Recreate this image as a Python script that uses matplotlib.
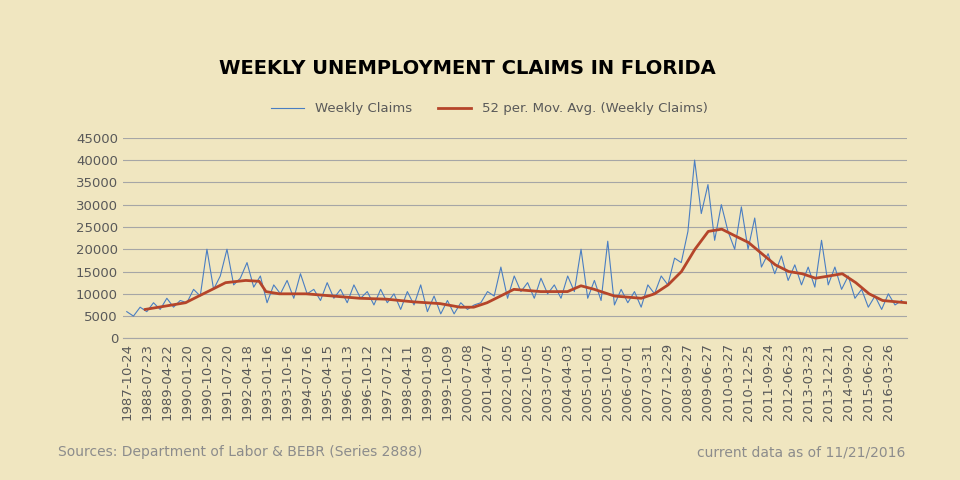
import numpy as np
import pandas as pd
import matplotlib
matplotlib.use("Agg")
import matplotlib.pyplot as plt

# weekly claims, read off roughly once per quarter (1987 Q4 .. 2016 Q4)
weekly_start = "1987-10-24"
weekly_claims = [
    6000,
    5000, 7000, 6000, 8000,
    6500, 9000, 7000, 8500,
    8000, 11000, 9500, 20000,
    11000, 14000, 20000, 12000,
    13500, 17000, 11500, 14000,
    8000, 12000, 10000, 13000,
    9000, 14500, 10000, 11000,
    8500, 12500, 9000, 11000,
    8000, 12000, 9000, 10500,
    7500, 11000, 8000, 10000,
    6500, 10500, 7500, 12000,
    6000, 9500, 5500, 8500,
    5500, 8000, 6500, 7500,
    8000, 10500, 9500, 16000,
    9000, 14000, 10500, 12500,
    9000, 13500, 10000, 12000,
    9000, 14000, 10500, 20000,
    9000, 13000, 8500, 21800,
    7500, 11000, 8000, 10500,
    7000, 12000, 10000, 14000,
    12000, 18000, 17000, 24000,
    40000, 28000, 34500, 22000,
    30000, 24000, 20000, 29500,
    20000, 27000, 16000, 19000,
    14500, 18500, 13000, 16500,
    12000, 16000, 11500, 22000,
    12000, 16000, 11000, 14000,
    9000, 11000, 7000, 9500,
    6500, 10000, 7500, 8500,
]

ma_dates = [
    "1988-07-01", "1989-01-01", "1990-01-01", "1990-07-01", "1991-01-01", "1991-07-01",
    "1992-04-01", "1992-10-01", "1993-01-01", "1993-07-01", "1994-07-01", "1995-07-01",
    "1996-07-01", "1997-07-01", "1998-07-01", "1999-07-01", "2000-04-01", "2000-10-01",
    "2001-04-01", "2001-10-01", "2002-04-01", "2003-04-01", "2004-04-01", "2004-10-01",
    "2005-04-01", "2006-01-01", "2007-01-01", "2007-07-01", "2008-01-01", "2008-07-01",
    "2009-01-01", "2009-07-01", "2010-01-01", "2010-07-01", "2011-01-01", "2011-07-01",
    "2012-01-01", "2012-07-01", "2013-01-01", "2013-07-01", "2014-01-01", "2014-07-01",
    "2015-01-01", "2015-07-01", "2016-01-01", "2016-11-15",
]
ma_values = [
    6500, 7000, 8000, 9500, 11000, 12500,
    13000, 12800, 10500, 10000, 10000, 9500,
    9000, 8800, 8200, 7800, 7000, 7000,
    8000, 9500, 11000, 10500, 10500, 11800,
    11000, 9500, 9000, 10000, 12000, 15000,
    20000, 24000, 24500, 23000, 21500, 19000,
    16500, 15000, 14500, 13500, 14000, 14500,
    12500, 10000, 8500, 8000,
]

tick_labels = [
    "1987-10-24", "1988-07-23", "1989-04-22", "1990-01-20", "1990-10-20", "1991-07-20",
    "1992-04-18", "1993-01-16", "1993-10-16", "1994-07-16", "1995-04-15", "1996-01-13",
    "1996-10-12", "1997-07-12", "1998-04-11", "1999-01-09", "1999-10-09", "2000-07-08",
    "2001-04-07", "2002-01-05", "2002-10-05", "2003-07-05", "2004-04-03", "2005-01-01",
    "2005-10-01", "2006-07-01", "2007-03-31", "2007-12-29", "2008-09-27", "2009-06-27",
    "2010-03-27", "2010-12-25", "2011-09-24", "2012-06-23", "2013-03-23", "2013-12-21",
    "2014-09-20", "2015-06-20", "2016-03-26",
]

bg = "#F0E6C0"
fig = plt.figure(figsize=(9.6, 4.8), dpi=100, facecolor=bg)
ax = fig.add_axes([0.128, 0.295, 0.817, 0.418], facecolor=bg)

wk_dates = pd.date_range(weekly_start, periods=len(weekly_claims), freq="91D")
ax.plot(wk_dates, weekly_claims, color="#4A7EC2", lw=0.8, label="Weekly Claims")
ax.plot(pd.to_datetime(ma_dates), ma_values, color="#B5452A", lw=2.0,
        label="52 per. Mov. Avg. (Weekly Claims)")

ax.set_ylim(0, 45000)
ax.set_yticks(range(0, 45001, 5000))
ax.set_xlim(pd.Timestamp("1987-09-01"), pd.Timestamp("2016-12-01"))
ax.set_xticks(pd.to_datetime(tick_labels))
ax.set_xticklabels(tick_labels, rotation=90)
ax.tick_params(colors="#595959", labelsize=9.5, length=0)
ax.grid(axis="y", color="#A6A6A6", lw=0.8)
ax.set_axisbelow(True)
for s in ["left", "right", "top"]:
    ax.spines[s].set_visible(False)
ax.spines["bottom"].set_color("#A6A6A6")

fig.text(0.487, 0.845, "WEEKLY UNEMPLOYMENT CLAIMS IN FLORIDA", ha="center",
         fontsize=14, fontweight="bold", color="black")
fig.legend(loc="center", bbox_to_anchor=(0.51, 0.773), ncol=2, frameon=False,
           fontsize=9.5, labelcolor="#595959", handlelength=2.5)
fig.text(0.06, 0.05, "Sources: Department of Labor & BEBR (Series 2888)",
         fontsize=10, color="#8C8C8C")
fig.text(0.943, 0.05, "current data as of 11/21/2016", ha="right",
         fontsize=10, color="#8C8C8C")

fig.savefig("out.png", dpi=100, facecolor=bg)
